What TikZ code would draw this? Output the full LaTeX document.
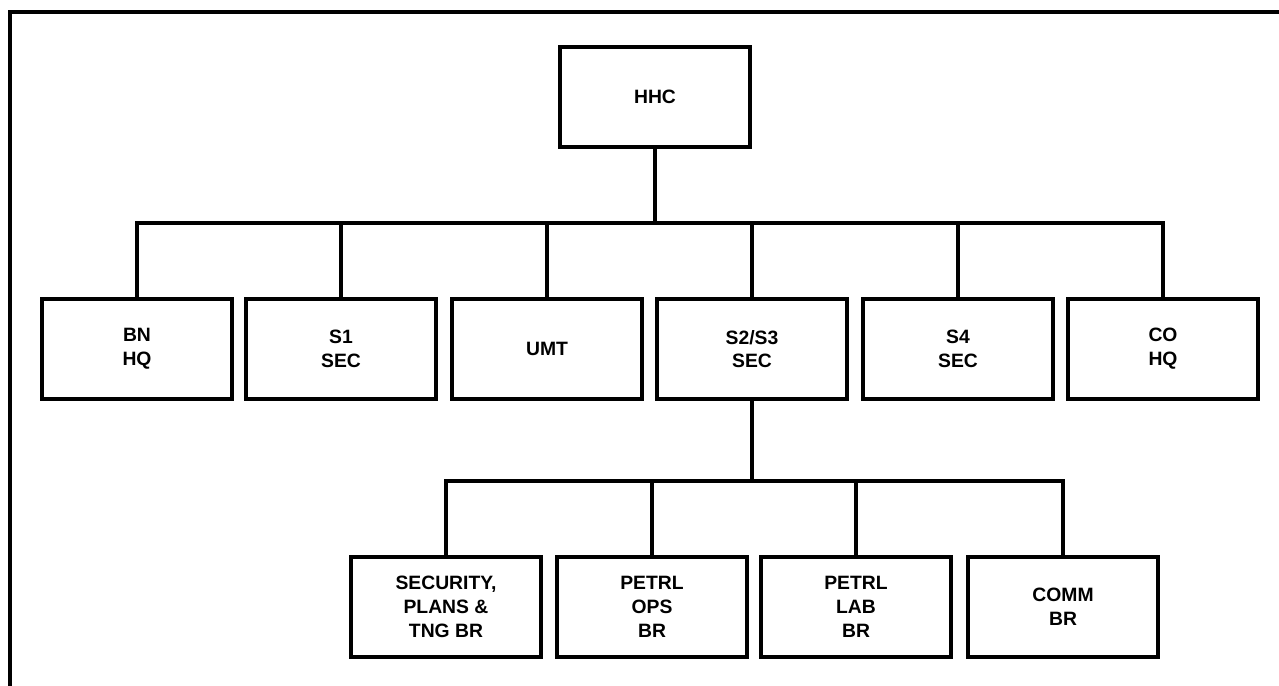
\documentclass[tikz,border=0pt]{standalone}
\usepackage{fontspec}
\setmainfont{Liberation Sans}
\tikzset{
  unit/.style={draw,line width=2pt,minimum width=3.8cm,minimum height=2cm,
    align=center,font=\bfseries\fontsize{11}{13.5}\selectfont},
  link/.style={line width=2.8pt}
}
\begin{document}
\begin{tikzpicture}[x=0.02cm,y=-0.02cm]
\useasboundingbox (0,0) rectangle (1279,686);
% frame
\draw[line width=2.2pt] (10,686) -- (10,12) -- (1279,12);
% boxes
\node[unit] (hhc) at (655,97) {HHC};
\node[unit] (bn) at (137,349) {BN\\HQ};
\node[unit] (s1) at (341,349) {S1\\SEC};
\node[unit] (umt) at (547,349) {UMT};
\node[unit] (s23) at (752,349) {S2/S3\\SEC};
\node[unit] (s4) at (958,349) {S4\\SEC};
\node[unit] (co) at (1163,349) {CO\\HQ};
\node[unit] (sec) at (446,607) {SECURITY,\\PLANS \&\\TNG BR};
\node[unit] (ops) at (652,607) {PETRL\\OPS\\BR};
\node[unit] (lab) at (856,607) {PETRL\\LAB\\BR};
\node[unit] (comm) at (1063,607) {COMM\\BR};
% lines
\coordinate (bus) at (655,223);
\coordinate (bustwo) at (752,481);
\draw[link] (hhc) -- (bus);
\draw[link] (bn.north) |- (bus) -| (co.north);
\draw[link] (s1) -- (s1 |- bus);
\draw[link] (umt) -- (umt |- bus);
\draw[link] (s23) -- (s23 |- bus);
\draw[link] (s4) -- (s4 |- bus);
\draw[link] (s23) -- (bustwo);
\draw[link] (sec.north) |- (bustwo) -| (comm.north);
\draw[link] (ops) -- (ops |- bustwo);
\draw[link] (lab) -- (lab |- bustwo);
\end{tikzpicture}
\end{document}
